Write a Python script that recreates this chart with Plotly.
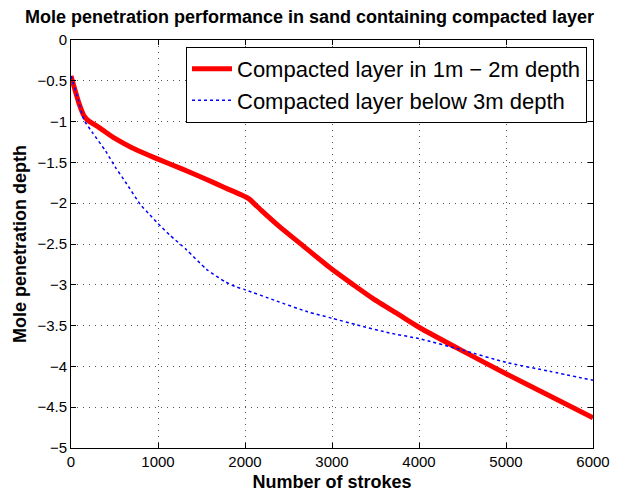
import plotly.graph_objects as go

# Data
strokes_red = [0, 90, 150, 200, 320, 510, 700, 1000, 1275, 1540, 1770, 1960, 2050, 2120, 2200, 2400, 2630, 3000, 3245, 3472, 3774, 4000, 4500, 5000, 5500, 6000]
depth_red = [-0.44, -0.77, -0.93, -0.99, -1.07, -1.21, -1.32, -1.46, -1.58, -1.70, -1.81, -1.90, -1.95, -2.02, -2.10, -2.29, -2.49, -2.81, -3.00, -3.17, -3.37, -3.52, -3.81, -4.09, -4.36, -4.63]

strokes_blue = [0, 84, 150, 244, 397, 511, 626, 800, 904, 1000, 1135, 1327, 1558, 1769, 1885, 2000, 2340, 2717, 3000, 3283, 3660, 4000, 4500, 5000, 5500, 6000]
depth_blue = [-0.44, -0.74, -0.98, -1.13, -1.36, -1.56, -1.74, -2.02, -2.14, -2.25, -2.39, -2.57, -2.81, -2.96, -3.02, -3.06, -3.19, -3.33, -3.41, -3.49, -3.59, -3.66, -3.80, -3.95, -4.06, -4.17]

name_red = "Compacted layer in 1m \u2212 2m depth"
name_blue = "Compacted layer below 3m depth"
title = "Mole penetration performance in sand containing compacted layer"
x_title = "Number of strokes"
y_title = "Mole penetration depth"
x_ticks = [0, 1000, 2000, 3000, 4000, 5000, 6000]
y_ticks = [0, -0.5, -1, -1.5, -2, -2.5, -3, -3.5, -4, -4.5, -5]

fig = go.Figure()
fig.add_trace(go.Scatter(x=strokes_red, y=depth_red, mode="lines", name=name_red,
                         line=dict(color="#ff0000", width=5, shape="spline", smoothing=0.6)))
fig.add_trace(go.Scatter(x=strokes_blue, y=depth_blue, mode="lines", name=name_blue,
                         line=dict(color="#0000ff", width=1.5, dash="dot", shape="spline", smoothing=0.6)))

font_family = "Liberation Sans, Arial, Helvetica, sans-serif"
axis_common = dict(
    showline=True, linecolor="black", linewidth=1, mirror="ticks",
    ticks="inside", ticklen=5, tickcolor="black",
    showgrid=True, gridcolor="#555555", griddash="1px,5px", gridwidth=1,
    zeroline=False, automargin=False,
    tickfont=dict(size=15, color="black", family=font_family),
)

fig.update_layout(
    width=619, height=495,
    margin=dict(l=71, r=26, t=40, b=47),
    paper_bgcolor="white", plot_bgcolor="white",
    font=dict(family=font_family, color="black"),
    title=dict(text="<b>" + title + "</b>", x=0.5, xanchor="center", y=0.966, yanchor="middle",
               font=dict(size=18, color="black", family=font_family)),
    legend=dict(x=0.9885, xanchor="right", y=0.983, yanchor="top",
                bgcolor="white", bordercolor="black", borderwidth=1,
                font=dict(size=22, color="black", family=font_family),
                itemwidth=40),
    showlegend=True,
)
fig.update_xaxes(range=[0, 6000], tickvals=x_ticks,
                 title=dict(text="<b>" + x_title + "</b>", font=dict(size=18), standoff=6),
                 **axis_common)
fig.update_yaxes(range=[-5, 0], tickvals=y_ticks,
                 title=dict(text="<b>" + y_title + "</b>", font=dict(size=18), standoff=6),
                 **axis_common)

fig.write_html("out.html")
